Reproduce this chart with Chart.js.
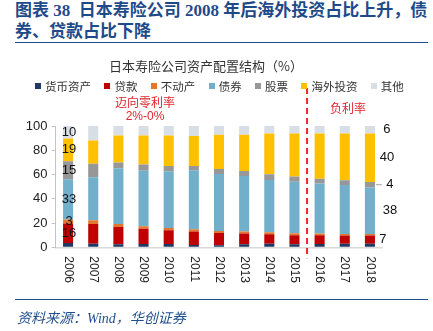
<!DOCTYPE html>
<html>
<head>
<meta charset="utf-8">
<script src="https://cdn.jsdelivr.net/npm/chart.js@4.4.1/dist/chart.umd.min.js"></script>
<style>
  html, body { margin: 0; padding: 0; background: #fff; }
  #page { position: relative; width: 433px; height: 331px; overflow: hidden; font-family: "Noto Sans CJK SC", sans-serif; }
  #title { position: absolute; left: 15px; top: 0px; font-family: "Liberation Serif", "Noto Sans CJK SC", serif; font-weight: bold; font-size: 17px; line-height: 21px; color: #1f4a8a; white-space: nowrap; }
  .rule { position: absolute; left: 15px; width: 413px; height: 1.5px; background: #1f4e8c; }
  #chartTitle { position: absolute; left: 0; width: 412px; top: 56px; text-align: center; font-size: 13px; color: #333; }
  #legend { position: absolute; left: 35px; top: 78px; display: flex; font-size: 11.5px; color: #333; line-height: 16px; }
  #legend .item { display: flex; align-items: center; margin-right: 13.4px; }
  #legend .box { width: 6px; height: 6px; margin-right: 4px; }
  .note { position: absolute; font-size: 12px; color: #e0262f; text-align: center; line-height: 15px; }
  #source { position: absolute; left: 17px; top: 307px; font-family: "Liberation Serif", "Noto Sans CJK SC", serif; font-style: italic; font-size: 14px; color: #1f4e8c; }
  canvas { position: absolute; left: 0; top: 0; }
</style>
</head>
<body>
<div id="page">
  <div id="title">图表 38&nbsp; 日本寿险公司 2008 年后海外投资占比上升，债<br>券、贷款占比下降</div>
  <div class="rule" style="top:41.5px"></div>
  <canvas id="chart" width="433" height="331"></canvas>
  <div id="chartTitle">日本寿险公司资产配置结构（%）</div>
  <div id="legend"></div>
  <div class="note" style="left:115px; top:94px; width:60px">迈向零利率</div>
  <div class="note" style="left:115px; top:109px; width:60px; font-family:'Liberation Sans', sans-serif">2%-0%</div>
  <div class="note" style="left:318px; top:100px; width:60px">负利率</div>
  <div class="rule" style="top:298.5px"></div>
  <div id="source">资料来源：Wind，华创证券</div>
</div>
<script>
// years on the x axis
const years = ['2006', '2007', '2008', '2009', '2010', '2011', '2012',
               '2013', '2014', '2015', '2016', '2017', '2018'];

// asset allocation share (%)
const cash     = [3.6, 3.0, 2.5, 2.8, 2.8, 1.9, 1.7, 2.5, 3.0, 2.5, 2.8, 3.0, 3.0];
const loans    = [16.0, 16.3, 14.3, 12.4, 11.3, 11.1, 10.1, 8.8, 7.8, 7.4, 7.1, 6.7, 6.7];
const realty   = [3.4, 3.1, 2.5, 2.2, 1.9, 1.9, 1.7, 1.7, 1.6, 1.7, 1.4, 1.3, 1.3];
const bonds    = [33.2, 35.3, 45.9, 45.8, 46.7, 48.6, 47.0, 45.8, 43.1, 42.5, 41.2, 40.4, 38.4];
const stocks   = [14.7, 11.1, 4.7, 5.0, 4.4, 3.6, 4.1, 4.2, 4.7, 4.2, 4.1, 3.8, 4.4];
const overseas = [18.8, 19.2, 22.3, 24.0, 25.1, 24.7, 28.2, 29.8, 33.7, 35.6, 37.3, 38.7, 40.1];
const other    = [10.3, 12.0, 7.8, 7.8, 7.8, 8.2, 7.2, 7.2, 6.1, 6.1, 6.1, 6.1, 6.1];

const seriesNames = ['货币资产', '贷款', '不动产', '债券', '股票', '海外投资', '其他'];
const seriesData = [cash, loans, realty, bonds, stocks, overseas, other];
const COLORS = ['#203864', '#c00000', '#e2782f', '#72afca', '#979797', '#ffc000', '#d8dee6'];

// which segments get a value label on the first and last bar
const firstLabels = [false, true, true, true, true, true, true];
const lastLabels  = [false, true, false, true, true, true, true];

// html legend
const legendEl = document.getElementById('legend');
seriesNames.forEach((name, i) => {
  const item = document.createElement('div');
  item.className = 'item';
  item.innerHTML = '<span class="box" style="background:' + COLORS[i] + '"></span><span>' + name + '</span>';
  legendEl.appendChild(item);
});

const NUM_FONT = "13px 'Liberation Sans', Arial, sans-serif";

const annotations = {
  id: 'annotations',
  afterDatasetsDraw(chart) {
    const ctx = chart.ctx;
    const x = chart.scales.x;
    const y = chart.scales.y;
    ctx.save();

    // year labels, rotated clockwise
    ctx.fillStyle = '#222';
    ctx.font = "12px 'Liberation Sans', Arial, sans-serif";
    ctx.textAlign = 'left';
    ctx.textBaseline = 'middle';
    years.forEach((yr, i) => {
      ctx.save();
      ctx.translate(x.getPixelForValue(i), y.getPixelForValue(0) + 9);
      ctx.rotate(Math.PI / 2);
      ctx.fillText(yr, 0, 0);
      ctx.restore();
    });

    // values on the 2006 bar
    ctx.font = NUM_FONT;
    ctx.textAlign = 'center';
    ctx.fillStyle = '#111';
    seriesData.forEach((s, d) => {
      if (!firstLabels[d]) return;
      const bar = chart.getDatasetMeta(d).data[0];
      ctx.fillText(Math.round(s[0]), bar.x + 1, (bar.y + bar.base) / 2);
    });

    // values beside the 2018 bar
    const last = years.length - 1;
    const dx = [0, -4, 0, 3, 3, 0, 0];
    seriesData.forEach((s, d) => {
      if (!lastLabels[d]) return;
      const bar = chart.getDatasetMeta(d).data[last];
      const my = (bar.y + bar.base) / 2;
      ctx.fillText(Math.round(s[last]), bar.x + 17 + dx[d], my);
      if (d === 4) {
        ctx.strokeStyle = '#a6a6a6';
        ctx.lineWidth = 1;
        ctx.beginPath();
        ctx.moveTo(bar.x + 6, my);
        ctx.lineTo(bar.x + 12, my);
        ctx.stroke();
      }
    });

    // dashed divider between 2015 and 2016
    const xd = (x.getPixelForValue(9) + x.getPixelForValue(10)) / 2;
    ctx.strokeStyle = '#f0282e';
    ctx.lineWidth = 2;
    ctx.setLineDash([6, 4]);
    ctx.beginPath();
    ctx.moveTo(xd, 88);
    ctx.lineTo(xd, y.getPixelForValue(0) + 11);
    ctx.stroke();
    ctx.restore();
  }
};

new Chart(document.getElementById('chart'), {
  type: 'bar',
  data: {
    labels: years,
    datasets: seriesData.map((s, i) => ({
      label: seriesNames[i],
      data: s,
      backgroundColor: COLORS[i],
      borderWidth: 0,
      categoryPercentage: 1,
      barPercentage: 0.4
    }))
  },
  options: {
    responsive: false,
    animation: false,
    devicePixelRatio: 1,
    layout: { padding: { left: 0, right: 50.5, top: 126, bottom: 83.7 } },
    plugins: { legend: { display: false }, title: { display: false }, tooltip: { enabled: false } },
    scales: {
      x: {
        stacked: true,
        ticks: { display: false },
        grid: { display: false },
        border: { color: '#d9d9d9', width: 1.5 },
        afterFit(scale) { scale.height = 0; }
      },
      y: {
        stacked: true,
        min: 0,
        max: 100,
        ticks: { stepSize: 20, color: '#222', padding: 4, font: { family: "'Liberation Sans', Arial, sans-serif", size: 13 } },
        grid: { drawOnChartArea: false, drawTicks: true, tickLength: 4, color: '#c4c4c4' },
        border: { color: '#c4c4c4' },
        afterFit(scale) { scale.width = 55.5; }
      }
    }
  },
  plugins: [annotations]
});
</script>
</body>
</html>
